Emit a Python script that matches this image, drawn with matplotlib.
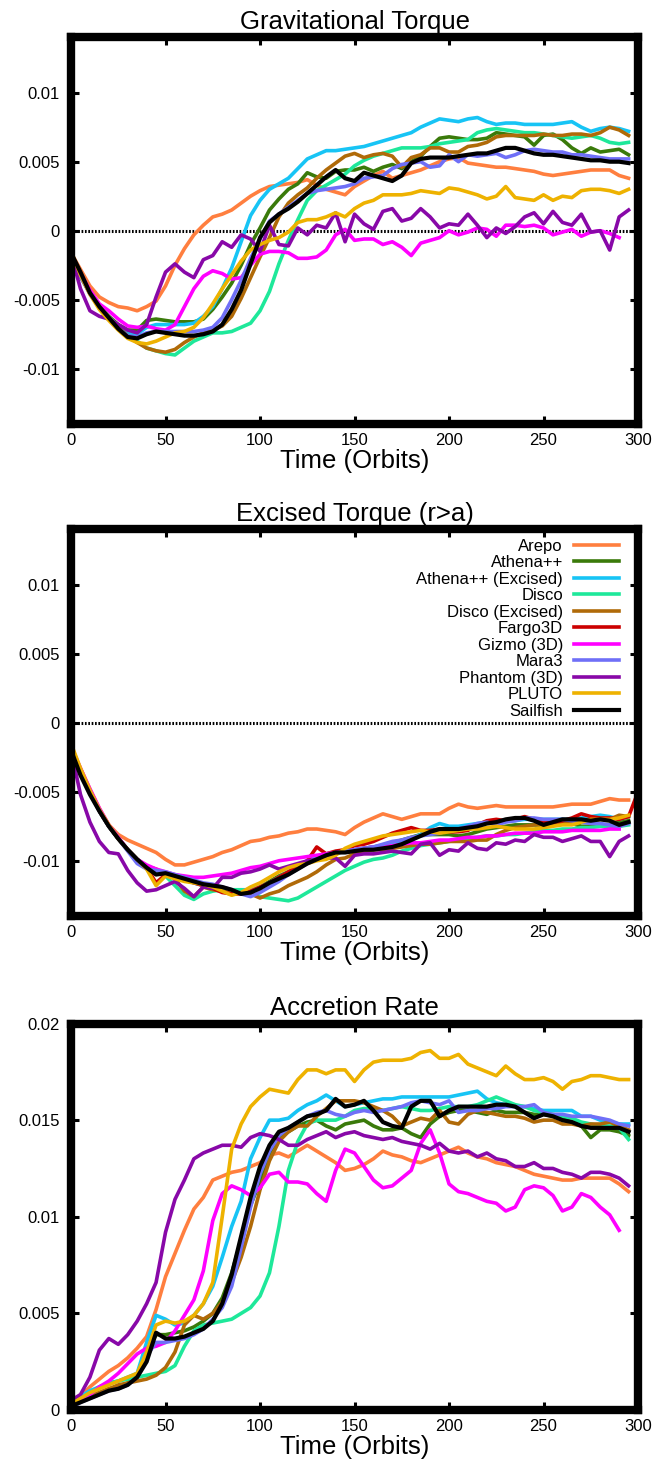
import numpy as np
import matplotlib
matplotlib.use("Agg")
import matplotlib.pyplot as plt

plt.rcParams['font.family'] = ['Liberation Sans', 'DejaVu Sans']

# time in orbits, sampled every 5 orbits
t = np.arange(0, 301, 5)

names = ["Arepo", "Athena++", "Athena++ (Excised)", "Disco", "Disco (Excised)",
         "Fargo3D", "Gizmo (3D)", "Mara3", "Phantom (3D)", "PLUTO", "Sailfish"]
colors = ["#ff7f3f", "#3a7a0a", "#17c4f5", "#1ee89a", "#b06a08",
          "#cc0000", "#ff00ff", "#6f6ff7", "#8808a8", "#eeb200", "#000000"]

# ---- gravitational torque ----
arepo_g = [-0.0016, -0.0028, -0.0040, -0.0048, -0.0052, -0.0055, -0.0056, -0.0058, -0.0055, -0.0051,
           -0.0040, -0.0025, -0.0013, -0.0003, 0.0004, 0.0010, 0.0012, 0.0015, 0.0020, 0.0025,
           0.0029, 0.0032, 0.0033, 0.0034, 0.0035, 0.0037, 0.0033, 0.0030, 0.0028, 0.0026,
           0.0032, 0.0036, 0.0040, 0.0043, 0.0038, 0.0040, 0.0042, 0.0044, 0.0047, 0.0050,
           0.0052, 0.0053, 0.0049, 0.0048, 0.0047, 0.0046, 0.0046, 0.0045, 0.0044, 0.0043,
           0.0041, 0.0040, 0.0041, 0.0042, 0.0043, 0.0044, 0.0044, 0.0044, 0.0040, 0.0038]
athena_g = [-0.0017, -0.0033, -0.0045, -0.0055, -0.0062, -0.0068, -0.0072, -0.0072, -0.0065, -0.0064,
            -0.0065, -0.0066, -0.0066, -0.0066, -0.0064, -0.0057, -0.0048, -0.0038, -0.0025, -0.0010,
            0.0002, 0.0015, 0.0023, 0.0030, 0.0034, 0.0042, 0.0039, 0.0038, 0.0043, 0.0044,
            0.0044, 0.0046, 0.0043, 0.0046, 0.0048, 0.0045, 0.0050, 0.0054, 0.0061, 0.0067,
            0.0068, 0.0067, 0.0066, 0.0066, 0.0067, 0.0071, 0.0070, 0.0069, 0.0068, 0.0062,
            0.0069, 0.0070, 0.0066, 0.0060, 0.0056, 0.0060, 0.0057, 0.0058, 0.0059, 0.0055]
athena_exc_g = [-0.0017, -0.0033, -0.0045, -0.0055, -0.0063, -0.0069, -0.0074, -0.0075, -0.0070, -0.0068,
                -0.0068, -0.0068, -0.0068, -0.0067, -0.0062, -0.0055, -0.0042, -0.0027, -0.0008, 0.0011,
                0.0022, 0.0030, 0.0034, 0.0038, 0.0045, 0.0052, 0.0055, 0.0058, 0.0058, 0.0059,
                0.0060, 0.0061, 0.0063, 0.0065, 0.0067, 0.0069, 0.0071, 0.0075, 0.0078, 0.0081,
                0.0080, 0.0079, 0.0081, 0.0082, 0.0079, 0.0077, 0.0078, 0.0078, 0.0077, 0.0077,
                0.0077, 0.0077, 0.0078, 0.0079, 0.0075, 0.0072, 0.0074, 0.0075, 0.0074, 0.0072]
disco_g = [-0.0017, -0.0033, -0.0045, -0.0055, -0.0063, -0.0070, -0.0076, -0.0080, -0.0085, -0.0087,
           -0.0089, -0.0090, -0.0085, -0.0080, -0.0077, -0.0074, -0.0074, -0.0073, -0.0070, -0.0067,
           -0.0058, -0.0044, -0.0024, -0.0007, 0.0008, 0.0022, 0.0029, 0.0033, 0.0037, 0.0041,
           0.0047, 0.0051, 0.0054, 0.0056, 0.0058, 0.0060, 0.0060, 0.0060, 0.0061, 0.0063,
           0.0064, 0.0065, 0.0066, 0.0071, 0.0073, 0.0074, 0.0073, 0.0072, 0.0071, 0.0071,
           0.0070, 0.0069, 0.0068, 0.0067, 0.0068, 0.0069, 0.0067, 0.0064, 0.0063, 0.0064]
disco_exc_g = [-0.0017, -0.0033, -0.0045, -0.0055, -0.0063, -0.0070, -0.0076, -0.0081, -0.0085, -0.0087,
               -0.0088, -0.0086, -0.0081, -0.0077, -0.0074, -0.0072, -0.0069, -0.0062, -0.0049, -0.0034,
               -0.0019, -0.0005, 0.0010, 0.0020, 0.0026, 0.0031, 0.0038, 0.0044, 0.0049, 0.0054,
               0.0056, 0.0053, 0.0055, 0.0056, 0.0054, 0.0046, 0.0053, 0.0055, 0.0060, 0.0060,
               0.0057, 0.0057, 0.0061, 0.0062, 0.0064, 0.0068, 0.0069, 0.0069, 0.0069, 0.0069,
               0.0070, 0.0069, 0.0069, 0.0070, 0.0070, 0.0069, 0.0071, 0.0075, 0.0073, 0.0069]
gizmo_g = [-0.0017, -0.0031, -0.0043, -0.0053, -0.0058, -0.0064, -0.0069, -0.0070, -0.0069, -0.0071,
           -0.0072, -0.0068, -0.0055, -0.0042, -0.0033, -0.0029, -0.0031, -0.0035, -0.0034, -0.0025,
           -0.0017, -0.0015, -0.0015, -0.0016, -0.0020, -0.0020, -0.0019, -0.0014, -0.0003, 0.0001,
           -0.0007, -0.0006, -0.0006, -0.0010, -0.0008, -0.0012, -0.0018, -0.0009, -0.0007, -0.0005,
           0.0000, -0.0003, -0.0001, 0.0002, 0.0001, -0.0004, 0.0004, 0.0004, 0.0003, 0.0004,
           0.0002, -0.0003, -0.0001, 0.0001, -0.0004, -0.0001, 0.0000, -0.0002, -0.0005]
mara_g = [-0.0017, -0.0033, -0.0046, -0.0056, -0.0064, -0.0071, -0.0076, -0.0077, -0.0074, -0.0073,
          -0.0073, -0.0073, -0.0073, -0.0073, -0.0072, -0.0070, -0.0063, -0.0050, -0.0036, -0.0020,
          -0.0006, 0.0007, 0.0012, 0.0017, 0.0022, 0.0027, 0.0029, 0.0030, 0.0031, 0.0032,
          0.0034, 0.0038, 0.0039, 0.0040, 0.0045, 0.0048, 0.0049, 0.0050, 0.0046, 0.0047,
          0.0055, 0.0050, 0.0055, 0.0054, 0.0055, 0.0056, 0.0053, 0.0055, 0.0058, 0.0059,
          0.0058, 0.0057, 0.0057, 0.0055, 0.0055, 0.0054, 0.0053, 0.0052, 0.0052, 0.0052]
phantom_g = [-0.0017, -0.0042, -0.0058, -0.0062, -0.0064, -0.0068, -0.0072, -0.0074, -0.0068, -0.0048,
             -0.0030, -0.0024, -0.0030, -0.0034, -0.0021, -0.0018, -0.0008, -0.0012, -0.0003, -0.0006,
             -0.0015, 0.0004, -0.0010, -0.0011, 0.0002, -0.0003, 0.0004, 0.0002, 0.0013, -0.0008,
             0.0012, 0.0005, 0.0001, 0.0014, 0.0016, 0.0007, 0.0009, 0.0016, 0.0010, 0.0002,
             0.0005, 0.0004, 0.0012, 0.0004, -0.0005, 0.0002, -0.0002, 0.0003, 0.0010, 0.0013,
             0.0005, 0.0014, 0.0006, 0.0004, 0.0012, -0.0001, 0.0000, -0.0014, 0.0010, 0.0015]
pluto_g = [-0.0015, -0.0032, -0.0046, -0.0057, -0.0065, -0.0072, -0.0078, -0.0081, -0.0082, -0.0080,
           -0.0077, -0.0074, -0.0073, -0.0070, -0.0063, -0.0053, -0.0042, -0.0032, -0.0022, -0.0014,
           -0.0010, -0.0007, -0.0005, -0.0001, 0.0006, 0.0008, 0.0008, 0.0010, 0.0013, 0.0010,
           0.0016, 0.0020, 0.0022, 0.0026, 0.0026, 0.0026, 0.0027, 0.0029, 0.0028, 0.0027,
           0.0031, 0.0030, 0.0028, 0.0026, 0.0023, 0.0025, 0.0032, 0.0024, 0.0023, 0.0022,
           0.0026, 0.0022, 0.0025, 0.0024, 0.0029, 0.0030, 0.0030, 0.0029, 0.0027, 0.0030]
sailfish_g = [-0.0016, -0.0030, -0.0045, -0.0055, -0.0063, -0.0071, -0.0077, -0.0078, -0.0075, -0.0073,
              -0.0074, -0.0075, -0.0076, -0.0076, -0.0075, -0.0073, -0.0068, -0.0057, -0.0043, -0.0024,
              -0.0005, 0.0006, 0.0012, 0.0016, 0.0021, 0.0027, 0.0033, 0.0039, 0.0044, 0.0038,
              0.0036, 0.0042, 0.0040, 0.0038, 0.0036, 0.0040, 0.0049, 0.0052, 0.0053, 0.0053,
              0.0053, 0.0054, 0.0055, 0.0056, 0.0056, 0.0058, 0.0060, 0.0060, 0.0058, 0.0056,
              0.0055, 0.0055, 0.0054, 0.0053, 0.0052, 0.0051, 0.0051, 0.0050, 0.0050, 0.0049]

# ---- excised torque (r > a) ----
arepo_e = [-0.0018, -0.0033, -0.0048, -0.0062, -0.0074, -0.0081, -0.0085, -0.0088, -0.0091, -0.0094,
           -0.0099, -0.0103, -0.0103, -0.0101, -0.0099, -0.0097, -0.0094, -0.0092, -0.0089, -0.0086,
           -0.0085, -0.0083, -0.0082, -0.0080, -0.0079, -0.0077, -0.0077, -0.0078, -0.0079, -0.0081,
           -0.0076, -0.0072, -0.0069, -0.0066, -0.0068, -0.0070, -0.0068, -0.0066, -0.0066, -0.0066,
           -0.0062, -0.0059, -0.0061, -0.0062, -0.0061, -0.0060, -0.0061, -0.0061, -0.0061, -0.0061,
           -0.0061, -0.0061, -0.0060, -0.0059, -0.0059, -0.0059, -0.0057, -0.0055, -0.0056, -0.0056]
athena_e = [-0.0017, -0.0035, -0.0050, -0.0064, -0.0075, -0.0084, -0.0092, -0.0099, -0.0104, -0.0107,
            -0.0109, -0.0111, -0.0113, -0.0115, -0.0117, -0.0119, -0.0120, -0.0122, -0.0123, -0.0122,
            -0.0119, -0.0115, -0.0111, -0.0108, -0.0105, -0.0101, -0.0098, -0.0096, -0.0094, -0.0093,
            -0.0092, -0.0091, -0.0090, -0.0089, -0.0087, -0.0085, -0.0083, -0.0081, -0.0081, -0.0081,
            -0.0081, -0.0082, -0.0081, -0.0079, -0.0077, -0.0076, -0.0075, -0.0074, -0.0074, -0.0074,
            -0.0074, -0.0073, -0.0072, -0.0073, -0.0075, -0.0075, -0.0075, -0.0074, -0.0072, -0.0071]
athena_exc_e = [-0.0017, -0.0035, -0.0050, -0.0064, -0.0075, -0.0084, -0.0092, -0.0099, -0.0105, -0.0108,
                -0.0110, -0.0112, -0.0114, -0.0116, -0.0118, -0.0120, -0.0121, -0.0122, -0.0121, -0.0121,
                -0.0119, -0.0116, -0.0112, -0.0108, -0.0104, -0.0100, -0.0097, -0.0095, -0.0094, -0.0093,
                -0.0092, -0.0091, -0.0090, -0.0089, -0.0088, -0.0087, -0.0084, -0.0081, -0.0076, -0.0073,
                -0.0075, -0.0075, -0.0074, -0.0073, -0.0072, -0.0072, -0.0071, -0.0071, -0.0070, -0.0070,
                -0.0070, -0.0070, -0.0070, -0.0070, -0.0069, -0.0068, -0.0067, -0.0068, -0.0070, -0.0068]
disco_e = [-0.0017, -0.0035, -0.0050, -0.0064, -0.0075, -0.0084, -0.0092, -0.0099, -0.0104, -0.0108,
           -0.0111, -0.0118, -0.0125, -0.0128, -0.0124, -0.0122, -0.0121, -0.0121, -0.0121, -0.0123,
           -0.0126, -0.0127, -0.0128, -0.0129, -0.0127, -0.0123, -0.0119, -0.0115, -0.0111, -0.0107,
           -0.0104, -0.0101, -0.0099, -0.0098, -0.0096, -0.0093, -0.0091, -0.0089, -0.0088, -0.0087,
           -0.0086, -0.0085, -0.0084, -0.0083, -0.0082, -0.0082, -0.0081, -0.0081, -0.0080, -0.0079,
           -0.0078, -0.0078, -0.0077, -0.0077, -0.0076, -0.0076, -0.0075, -0.0075, -0.0075, -0.0074]
disco_exc_e = [-0.0017, -0.0035, -0.0050, -0.0064, -0.0075, -0.0084, -0.0092, -0.0099, -0.0104, -0.0106,
               -0.0110, -0.0113, -0.0122, -0.0126, -0.0119, -0.0121, -0.0122, -0.0123, -0.0124, -0.0124,
               -0.0127, -0.0124, -0.0122, -0.0118, -0.0115, -0.0112, -0.0108, -0.0103, -0.0099, -0.0098,
               -0.0095, -0.0093, -0.0092, -0.0092, -0.0091, -0.0090, -0.0089, -0.0088, -0.0088, -0.0087,
               -0.0086, -0.0086, -0.0086, -0.0085, -0.0085, -0.0081, -0.0078, -0.0076, -0.0075, -0.0074,
               -0.0074, -0.0073, -0.0073, -0.0072, -0.0072, -0.0071, -0.0070, -0.0070, -0.0067, -0.0068]
fargo_e = [-0.0017, -0.0035, -0.0050, -0.0064, -0.0075, -0.0084, -0.0092, -0.0099, -0.0105, -0.0116,
           -0.0110, -0.0112, -0.0114, -0.0116, -0.0118, -0.0120, -0.0123, -0.0124, -0.0124, -0.0122,
           -0.0119, -0.0116, -0.0112, -0.0108, -0.0104, -0.0100, -0.0090, -0.0095, -0.0093, -0.0092,
           -0.0089, -0.0088, -0.0086, -0.0083, -0.0080, -0.0078, -0.0076, -0.0078, -0.0078, -0.0077,
           -0.0079, -0.0079, -0.0078, -0.0074, -0.0071, -0.0070, -0.0071, -0.0070, -0.0068, -0.0070,
           -0.0072, -0.0072, -0.0071, -0.0069, -0.0066, -0.0068, -0.0069, -0.0069, -0.0070, -0.0068,
           -0.0050]
gizmo_e = [-0.0017, -0.0033, -0.0048, -0.0062, -0.0074, -0.0083, -0.0092, -0.0099, -0.0103, -0.0106,
           -0.0108, -0.0110, -0.0111, -0.0112, -0.0112, -0.0111, -0.0110, -0.0109, -0.0107, -0.0105,
           -0.0104, -0.0102, -0.0100, -0.0099, -0.0098, -0.0097, -0.0096, -0.0095, -0.0094, -0.0093,
           -0.0092, -0.0091, -0.0090, -0.0090, -0.0089, -0.0088, -0.0087, -0.0087, -0.0086, -0.0085,
           -0.0085, -0.0084, -0.0083, -0.0083, -0.0082, -0.0082, -0.0081, -0.0080, -0.0080, -0.0080,
           -0.0079, -0.0079, -0.0079, -0.0078, -0.0078, -0.0078, -0.0078, -0.0077, -0.0077]
mara_e = [-0.0017, -0.0035, -0.0050, -0.0064, -0.0075, -0.0084, -0.0093, -0.0102, -0.0106, -0.0107,
          -0.0108, -0.0110, -0.0112, -0.0114, -0.0116, -0.0117, -0.0119, -0.0121, -0.0124, -0.0126,
          -0.0123, -0.0119, -0.0115, -0.0110, -0.0106, -0.0102, -0.0099, -0.0097, -0.0095, -0.0093,
          -0.0092, -0.0091, -0.0090, -0.0088, -0.0086, -0.0085, -0.0083, -0.0082, -0.0081, -0.0080,
          -0.0078, -0.0077, -0.0075, -0.0073, -0.0072, -0.0074, -0.0072, -0.0071, -0.0069, -0.0069,
          -0.0070, -0.0070, -0.0070, -0.0071, -0.0072, -0.0073, -0.0073, -0.0074, -0.0075, -0.0073]
phantom_e = [-0.0020, -0.0052, -0.0072, -0.0086, -0.0094, -0.0095, -0.0107, -0.0116, -0.0122, -0.0121,
             -0.0118, -0.0115, -0.0120, -0.0126, -0.0119, -0.0120, -0.0112, -0.0112, -0.0109, -0.0108,
             -0.0106, -0.0103, -0.0106, -0.0104, -0.0102, -0.0100, -0.0099, -0.0098, -0.0098, -0.0104,
             -0.0096, -0.0095, -0.0095, -0.0094, -0.0093, -0.0094, -0.0095, -0.0088, -0.0087, -0.0096,
             -0.0092, -0.0093, -0.0087, -0.0091, -0.0092, -0.0087, -0.0088, -0.0085, -0.0086, -0.0081,
             -0.0083, -0.0083, -0.0086, -0.0084, -0.0082, -0.0086, -0.0086, -0.0097, -0.0086, -0.0082]
pluto_e = [-0.0015, -0.0033, -0.0049, -0.0063, -0.0074, -0.0084, -0.0092, -0.0099, -0.0106, -0.0118,
           -0.0111, -0.0113, -0.0115, -0.0116, -0.0117, -0.0119, -0.0122, -0.0125, -0.0123, -0.0119,
           -0.0116, -0.0112, -0.0108, -0.0105, -0.0103, -0.0102, -0.0100, -0.0099, -0.0096, -0.0091,
           -0.0088, -0.0086, -0.0084, -0.0082, -0.0081, -0.0080, -0.0079, -0.0078, -0.0079, -0.0080,
           -0.0079, -0.0078, -0.0077, -0.0077, -0.0076, -0.0075, -0.0076, -0.0077, -0.0077, -0.0077,
           -0.0076, -0.0075, -0.0074, -0.0074, -0.0072, -0.0070, -0.0070, -0.0070, -0.0069, -0.0067]
sailfish_e = [-0.0020, -0.0038, -0.0052, -0.0064, -0.0075, -0.0084, -0.0092, -0.0099, -0.0105, -0.0110,
              -0.0109, -0.0111, -0.0113, -0.0115, -0.0117, -0.0118, -0.0119, -0.0121, -0.0124, -0.0123,
              -0.0120, -0.0116, -0.0113, -0.0110, -0.0106, -0.0102, -0.0099, -0.0096, -0.0094, -0.0094,
              -0.0093, -0.0092, -0.0092, -0.0091, -0.0090, -0.0088, -0.0085, -0.0082, -0.0079, -0.0077,
              -0.0077, -0.0077, -0.0076, -0.0075, -0.0073, -0.0072, -0.0070, -0.0069, -0.0069, -0.0071,
              -0.0074, -0.0072, -0.0070, -0.0070, -0.0070, -0.0071, -0.0070, -0.0071, -0.0074, -0.0072]

# ---- accretion rate ----
arepo_a = [0.0002, 0.0007, 0.0012, 0.0016, 0.0020, 0.0023, 0.0027, 0.0032, 0.0038, 0.0052,
           0.0069, 0.0081, 0.0093, 0.0104, 0.0110, 0.0119, 0.0121, 0.0123, 0.0124, 0.0126,
           0.0128, 0.0132, 0.0133, 0.0131, 0.0134, 0.0137, 0.0134, 0.0131, 0.0128, 0.0124,
           0.0125, 0.0127, 0.0130, 0.0134, 0.0132, 0.0131, 0.0129, 0.0128, 0.0130, 0.0132,
           0.0134, 0.0136, 0.0133, 0.0131, 0.0130, 0.0128, 0.0127, 0.0126, 0.0124, 0.0122,
           0.0121, 0.0120, 0.0119, 0.0119, 0.0120, 0.0120, 0.0120, 0.0120, 0.0117, 0.0113]
athena_a = [0.0003, 0.0005, 0.0007, 0.0009, 0.0011, 0.0012, 0.0014, 0.0018, 0.0030, 0.0039,
            0.0039, 0.0040, 0.0041, 0.0043, 0.0046, 0.0050, 0.0058, 0.0071, 0.0088, 0.0106,
            0.0118, 0.0133, 0.0141, 0.0144, 0.0147, 0.0149, 0.0150, 0.0147, 0.0145, 0.0148,
            0.0149, 0.0150, 0.0147, 0.0145, 0.0145, 0.0146, 0.0143, 0.0141, 0.0148, 0.0152,
            0.0154, 0.0155, 0.0155, 0.0154, 0.0153, 0.0155, 0.0154, 0.0154, 0.0154, 0.0153,
            0.0153, 0.0152, 0.0151, 0.0149, 0.0147, 0.0141, 0.0145, 0.0145, 0.0144, 0.0142]
athena_exc_a = [0.0004, 0.0007, 0.0010, 0.0012, 0.0014, 0.0015, 0.0017, 0.0019, 0.0035, 0.0049,
                0.0047, 0.0044, 0.0045, 0.0049, 0.0055, 0.0064, 0.0079, 0.0095, 0.0108, 0.0130,
                0.0141, 0.0150, 0.0150, 0.0151, 0.0155, 0.0158, 0.0160, 0.0163, 0.0160, 0.0157,
                0.0158, 0.0159, 0.0160, 0.0161, 0.0161, 0.0162, 0.0162, 0.0162, 0.0162, 0.0162,
                0.0162, 0.0163, 0.0164, 0.0165, 0.0161, 0.0159, 0.0158, 0.0157, 0.0157, 0.0156,
                0.0155, 0.0155, 0.0155, 0.0155, 0.0152, 0.0152, 0.0150, 0.0149, 0.0148, 0.0148]
disco_a = [0.0003, 0.0006, 0.0009, 0.0012, 0.0014, 0.0015, 0.0016, 0.0017, 0.0018, 0.0019,
           0.0020, 0.0023, 0.0033, 0.0041, 0.0044, 0.0045, 0.0046, 0.0047, 0.0050, 0.0053,
           0.0059, 0.0071, 0.0095, 0.0124, 0.0139, 0.0148, 0.0150, 0.0150, 0.0150, 0.0152,
           0.0155, 0.0156, 0.0156, 0.0155, 0.0156, 0.0157, 0.0156, 0.0155, 0.0155, 0.0156,
           0.0157, 0.0157, 0.0157, 0.0158, 0.0160, 0.0162, 0.0160, 0.0158, 0.0157, 0.0155,
           0.0154, 0.0153, 0.0152, 0.0151, 0.0149, 0.0148, 0.0147, 0.0147, 0.0146, 0.0140]
disco_exc_a = [0.0003, 0.0005, 0.0007, 0.0009, 0.0011, 0.0013, 0.0014, 0.0015, 0.0016, 0.0018,
               0.0022, 0.0030, 0.0044, 0.0049, 0.0047, 0.0050, 0.0056, 0.0066, 0.0079, 0.0095,
               0.0114, 0.0129, 0.0139, 0.0144, 0.0147, 0.0147, 0.0152, 0.0156, 0.0160, 0.0160,
               0.0160, 0.0159, 0.0157, 0.0155, 0.0152, 0.0147, 0.0149, 0.0151, 0.0150, 0.0155,
               0.0149, 0.0148, 0.0153, 0.0155, 0.0154, 0.0153, 0.0152, 0.0152, 0.0151, 0.0149,
               0.0150, 0.0150, 0.0148, 0.0148, 0.0147, 0.0148, 0.0148, 0.0149, 0.0147, 0.0145]
gizmo_a = [0.0002, 0.0005, 0.0008, 0.0012, 0.0015, 0.0019, 0.0024, 0.0029, 0.0032, 0.0033,
           0.0035, 0.0041, 0.0049, 0.0057, 0.0072, 0.0098, 0.0112, 0.0116, 0.0114, 0.0111,
           0.0115, 0.0122, 0.0123, 0.0118, 0.0118, 0.0117, 0.0112, 0.0108, 0.0124, 0.0135,
           0.0133, 0.0126, 0.0119, 0.0115, 0.0116, 0.0120, 0.0124, 0.0138, 0.0145, 0.0133,
           0.0117, 0.0113, 0.0112, 0.0110, 0.0108, 0.0107, 0.0103, 0.0105, 0.0114, 0.0116,
           0.0115, 0.0111, 0.0103, 0.0105, 0.0112, 0.0110, 0.0105, 0.0101, 0.0093]
mara_a = [0.0001, 0.0004, 0.0006, 0.0008, 0.0010, 0.0011, 0.0013, 0.0017, 0.0028, 0.0035,
          0.0035, 0.0036, 0.0037, 0.0039, 0.0042, 0.0047, 0.0053, 0.0064, 0.0084, 0.0105,
          0.0122, 0.0134, 0.0142, 0.0146, 0.0149, 0.0152, 0.0154, 0.0155, 0.0153, 0.0152,
          0.0154, 0.0155, 0.0154, 0.0155, 0.0156, 0.0157, 0.0159, 0.0160, 0.0159, 0.0158,
          0.0160, 0.0154, 0.0155, 0.0155, 0.0156, 0.0156, 0.0157, 0.0157, 0.0157, 0.0158,
          0.0154, 0.0153, 0.0153, 0.0152, 0.0152, 0.0152, 0.0151, 0.0150, 0.0148, 0.0147]
phantom_a = [0.0005, 0.0008, 0.0017, 0.0031, 0.0037, 0.0034, 0.0039, 0.0046, 0.0055, 0.0066,
             0.0092, 0.0109, 0.0119, 0.0130, 0.0133, 0.0135, 0.0137, 0.0137, 0.0136, 0.0141,
             0.0143, 0.0142, 0.0140, 0.0137, 0.0137, 0.0140, 0.0142, 0.0144, 0.0141, 0.0143,
             0.0144, 0.0142, 0.0141, 0.0140, 0.0141, 0.0139, 0.0138, 0.0137, 0.0135, 0.0138,
             0.0134, 0.0133, 0.0134, 0.0131, 0.0133, 0.0130, 0.0129, 0.0126, 0.0126, 0.0128,
             0.0125, 0.0125, 0.0123, 0.0122, 0.0120, 0.0123, 0.0123, 0.0122, 0.0120, 0.0116]
pluto_a = [0.0003, 0.0006, 0.0009, 0.0011, 0.0013, 0.0015, 0.0017, 0.0019, 0.0030, 0.0044,
           0.0046, 0.0045, 0.0046, 0.0049, 0.0055, 0.0066, 0.0100, 0.0135, 0.0148, 0.0157,
           0.0162, 0.0166, 0.0165, 0.0164, 0.0171, 0.0176, 0.0176, 0.0174, 0.0176, 0.0176,
           0.0170, 0.0176, 0.0180, 0.0181, 0.0181, 0.0181, 0.0182, 0.0185, 0.0186, 0.0182,
           0.0182, 0.0184, 0.0179, 0.0177, 0.0175, 0.0173, 0.0178, 0.0174, 0.0171, 0.0171,
           0.0172, 0.0170, 0.0166, 0.0170, 0.0171, 0.0173, 0.0173, 0.0172, 0.0171, 0.0171]
sailfish_a = [0.0002, 0.0004, 0.0006, 0.0008, 0.0010, 0.0011, 0.0013, 0.0017, 0.0025, 0.0040,
              0.0037, 0.0037, 0.0038, 0.0040, 0.0042, 0.0046, 0.0055, 0.0070, 0.0090, 0.0110,
              0.0126, 0.0137, 0.0144, 0.0146, 0.0149, 0.0152, 0.0153, 0.0155, 0.0161, 0.0157,
              0.0158, 0.0160, 0.0155, 0.0149, 0.0147, 0.0146, 0.0157, 0.0160, 0.0160, 0.0152,
              0.0155, 0.0157, 0.0157, 0.0157, 0.0157, 0.0158, 0.0158, 0.0157, 0.0154, 0.0151,
              0.0153, 0.0152, 0.0150, 0.0149, 0.0147, 0.0146, 0.0146, 0.0146, 0.0146, 0.0144]

grav = [arepo_g, athena_g, athena_exc_g, disco_g, disco_exc_g, None,
        gizmo_g, mara_g, phantom_g, pluto_g, sailfish_g]
excised = [arepo_e, athena_e, athena_exc_e, disco_e, disco_exc_e, fargo_e,
           gizmo_e, mara_e, phantom_e, pluto_e, sailfish_e]
accretion = [arepo_a, athena_a, athena_exc_a, disco_a, disco_exc_a, None,
             gizmo_a, mara_a, phantom_a, pluto_a, sailfish_a]

torque_ticks = [-0.01, -0.005, 0, 0.005, 0.01]
torque_labels = ["-0.01", "-0.005", "0", "0.005", "0.01"]
acc_ticks = [0, 0.005, 0.01, 0.015, 0.02]
acc_labels = ["0", "0.005", "0.01", "0.015", "0.02"]
x_ticks = [0, 50, 100, 150, 200, 250, 300]


def panel(ax, series, title, ylim, yticks, ylabels, zero_line=False):
    if zero_line:
        ax.axhline(0, color="black", lw=2.2, ls=(0, (0.55, 0.55)), zorder=1.5)
    for name, col, v in zip(names, colors, series):
        if v is None:
            continue
        lw = 3.0 if name == "Sailfish" else 2.6
        ax.plot(t[:len(v)], v, color=col, lw=lw, label=name)
    ax.set_xlim(0, 300)
    ax.set_ylim(*ylim)
    ax.set_xticks(x_ticks)
    ax.set_xticklabels([str(x) for x in x_ticks])
    ax.set_yticks(yticks)
    ax.set_yticklabels(ylabels)
    ax.tick_params(direction="in", length=5.5, width=2.2, top=True, right=True,
                   labelsize=12, pad=6.5)
    ax.tick_params(axis="y", pad=8)
    for s in ax.spines.values():
        s.set_linewidth(6)
    ax.set_title(title, fontsize=18.5, pad=6)
    ax.set_xlabel("Time (Orbits)", fontsize=18.5, labelpad=1)


fig = plt.figure(figsize=(6.7, 14.63), dpi=100)
ax1 = fig.add_axes([0.1060, 0.7102, 0.8463, 0.2642])
ax2 = fig.add_axes([0.1060, 0.3739, 0.8463, 0.2642])
ax3 = fig.add_axes([0.1060, 0.0362, 0.8463, 0.2642])

panel(ax1, grav, "Gravitational Torque", (-0.014, 0.014), torque_ticks, torque_labels, True)
panel(ax2, excised, "Excised Torque (r>a)", (-0.014, 0.014), torque_ticks, torque_labels, True)
panel(ax3, accretion, "Accretion Rate", (0, 0.02), acc_ticks, acc_labels)

ax2.legend(loc="upper right", bbox_to_anchor=(0.9665, 0.976), frameon=False,
           markerfirst=False, fontsize=12, handlelength=2.7, handletextpad=0.66,
           labelspacing=0.09, borderpad=0, borderaxespad=0)

fig.savefig("out.png", dpi=100)
